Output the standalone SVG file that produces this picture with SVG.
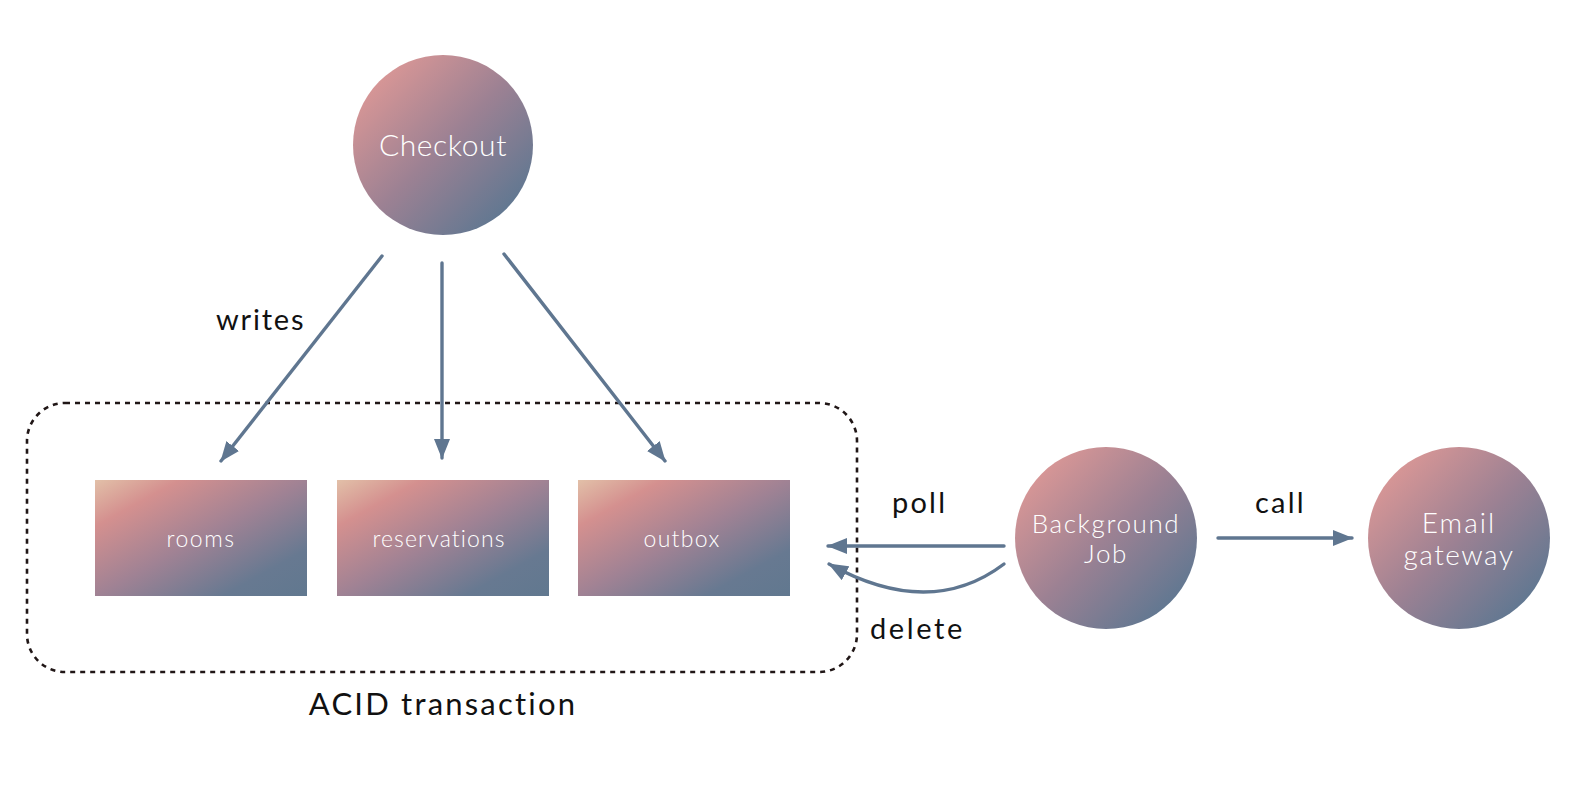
<svg xmlns="http://www.w3.org/2000/svg" width="1578" height="792" viewBox="0 0 1578 792">
  <defs>
    <linearGradient id="gCircle" x1="0.12" y1="0.12" x2="0.88" y2="0.88">
      <stop offset="0" stop-color="#da9796"/>
      <stop offset="0.5" stop-color="#9c8193"/>
      <stop offset="1" stop-color="#5e7791"/>
    </linearGradient>
    <linearGradient id="gRect" x1="0" y1="0" x2="1" y2="1">
      <stop offset="0" stop-color="#e2c0a8"/>
      <stop offset="0.2" stop-color="#d4908f"/>
      <stop offset="0.5" stop-color="#a08294"/>
      <stop offset="0.8" stop-color="#677991"/>
      <stop offset="1" stop-color="#61788f"/>
    </linearGradient>
    <marker id="arr" viewBox="0 0 20 16" refX="19" refY="8" markerWidth="20" markerHeight="16" markerUnits="userSpaceOnUse" orient="auto">
      <path d="M0,0 L20,8 L0,16 z" fill="#5f7690"/>
    </marker>
  </defs>
  <style>
    .lbl { font-family: "Lato", "Open Sans", "Liberation Sans", sans-serif; font-weight: 400; fill: #111111; }
    .nodeTxt { font-family: "Lato", "Open Sans", "Liberation Sans", sans-serif; font-weight: 300; fill: #ffffff; text-anchor: middle; }
    .rectTxt { font-family: "Lato", "Open Sans", "Liberation Sans", sans-serif; font-weight: 300; fill: #ffffff; text-anchor: middle; }
    .edge { fill: none; stroke: #5f7690; stroke-width: 3.4; stroke-linecap: round; }
    .box { fill: none; stroke: #201616; stroke-width: 2.6; stroke-dasharray: 5 5; }
  </style>
  <rect width="1578" height="792" fill="#ffffff"/>

  <g id="acid-transaction">
    <rect class="box" x="27" y="403" width="830" height="269" rx="38" ry="38"/>
    <text class="lbl" x="443" y="715" font-size="31" text-anchor="middle" letter-spacing="2.2">ACID transaction</text>
  </g>

  <g id="checkout">
    <circle cx="443" cy="145" r="90" fill="url(#gCircle)"/>
    <text class="nodeTxt" x="443" y="156" font-size="30" letter-spacing="0.6">Checkout</text>
  </g>

  <g id="rooms">
    <rect x="95" y="480" width="212" height="116" fill="url(#gRect)"/>
    <text class="rectTxt" x="201" y="547" font-size="23" letter-spacing="1.5">rooms</text>
  </g>
  <g id="reservations">
    <rect x="337" y="480" width="212" height="116" fill="url(#gRect)"/>
    <text class="rectTxt" x="439" y="547" font-size="23" letter-spacing="1.1">reservations</text>
  </g>
  <g id="outbox">
    <rect x="578" y="480" width="212" height="116" fill="url(#gRect)"/>
    <text class="rectTxt" x="682" y="547" font-size="23" letter-spacing="1.3">outbox</text>
  </g>

  <g id="background-job">
    <circle cx="1106" cy="538" r="91" fill="url(#gCircle)"/>
    <text class="nodeTxt" x="1106" y="533" font-size="26" letter-spacing="1.6">Background</text>
    <text class="nodeTxt" x="1106" y="563" font-size="26" letter-spacing="1.6">Job</text>
  </g>

  <g id="email-gateway">
    <circle cx="1459" cy="538" r="91" fill="url(#gCircle)"/>
    <text class="nodeTxt" x="1459" y="533" font-size="28" letter-spacing="2">Email</text>
    <text class="nodeTxt" x="1459" y="565" font-size="28" letter-spacing="1.5">gateway</text>
  </g>

  <g id="connectors">
    <line class="edge" x1="382" y1="256" x2="221" y2="461" marker-end="url(#arr)"/>
    <line class="edge" x1="442" y1="263" x2="442" y2="458" marker-end="url(#arr)"/>
    <line class="edge" x1="504" y1="254" x2="665" y2="461" marker-end="url(#arr)"/>
    <line class="edge" x1="1004" y1="546" x2="828" y2="546" marker-end="url(#arr)"/>
    <path class="edge" d="M1004,564 Q930,620 829,564" marker-end="url(#arr)"/>
    <line class="edge" x1="1218" y1="538" x2="1352" y2="538" marker-end="url(#arr)"/>
    <text class="lbl" x="216" y="330" font-size="29" letter-spacing="1.8">writes</text>
    <text class="lbl" x="892" y="513" font-size="29" letter-spacing="2.2">poll</text>
    <text class="lbl" x="870" y="639" font-size="29" letter-spacing="2.6">delete</text>
    <text class="lbl" x="1255" y="513" font-size="29" letter-spacing="2.2">call</text>
  </g>
</svg>
